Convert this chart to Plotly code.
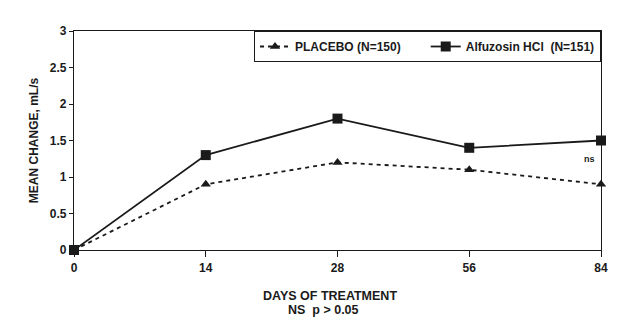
import plotly.graph_objects as go

days = ["0", "14", "28", "56", "84"]
placebo = [0.0, 0.9, 1.2, 1.1, 0.9]
alfuzosin = [0.0, 1.3, 1.8, 1.4, 1.5]
y_ticks = [0, 0.5, 1, 1.5, 2, 2.5, 3]
y_tick_labels = ["0", "0.5", "1", "1.5", "2", "2.5", "3"]

ink = "#1a1a1a"
font = dict(family="Liberation Sans, Arial, sans-serif", size=12, color=ink)

fig = go.Figure()
fig.add_trace(go.Scatter(
    x=days, y=placebo, mode="lines+markers",
    name="<b>PLACEBO (N=150)</b>      ",
    line=dict(color=ink, width=1.8, dash="4px,4px"),
    marker=dict(symbol="triangle-up", size=9, color=ink),
    cliponaxis=False,
))
fig.add_trace(go.Scatter(
    x=days, y=alfuzosin, mode="lines+markers",
    name="<b>Alfuzosin HCl  (N=151)</b>",
    line=dict(color=ink, width=1.8),
    marker=dict(symbol="square", size=10, color=ink),
    cliponaxis=False,
))

fig.add_annotation(x=4, y=1.25, xref="x", yref="y", text="<b>ns</b>",
                   showarrow=False, xshift=-12, font=dict(size=9, color=ink))
fig.add_annotation(x=0.486, y=-0.21, xref="paper", yref="paper",
                   text="<b>DAYS OF TREATMENT</b>", showarrow=False,
                   xanchor="center", yanchor="middle",
                   font=dict(size=12.5, color=ink))
fig.add_annotation(x=0.474, y=-0.274, xref="paper", yref="paper",
                   text="<b>NS  p > 0.05</b>", showarrow=False,
                   xanchor="center", yanchor="middle",
                   font=dict(size=12.5, color=ink))

fig.update_layout(
    width=627, height=321,
    margin=dict(l=74, r=26, t=31, b=71),
    paper_bgcolor="white", plot_bgcolor="white",
    font=font,
    showlegend=True,
    legend=dict(
        orientation="h", x=1, xanchor="right", y=1, yanchor="top",
        bordercolor=ink, borderwidth=1, bgcolor="white",
        font=dict(size=12, color=ink), itemwidth=30,
        tracegroupgap=0,
    ),
    xaxis=dict(
        type="category", range=[0, 4], showgrid=False, zeroline=False,
        automargin=False,
        showline=True, linecolor=ink, linewidth=1.2, mirror=True,
        ticks="outside", ticklen=6, tickcolor=ink,
        tickfont=dict(size=12, color=ink),
        tickprefix="<b>", ticksuffix="</b>",
    ),
    yaxis=dict(
        range=[0, 3], showgrid=False, zeroline=False,
        automargin=False,
        showline=True, linecolor=ink, linewidth=1.2, mirror=True,
        ticks="outside", ticklen=4, tickcolor=ink,
        tickvals=y_ticks, ticktext=["<b>%s</b>" % t for t in y_tick_labels],
        tickfont=dict(size=12, color=ink),
        title=dict(text="<b>MEAN CHANGE, mL/s</b>",
                   font=dict(size=12, color=ink), standoff=8),
    ),
)

fig.write_html("out.html")
